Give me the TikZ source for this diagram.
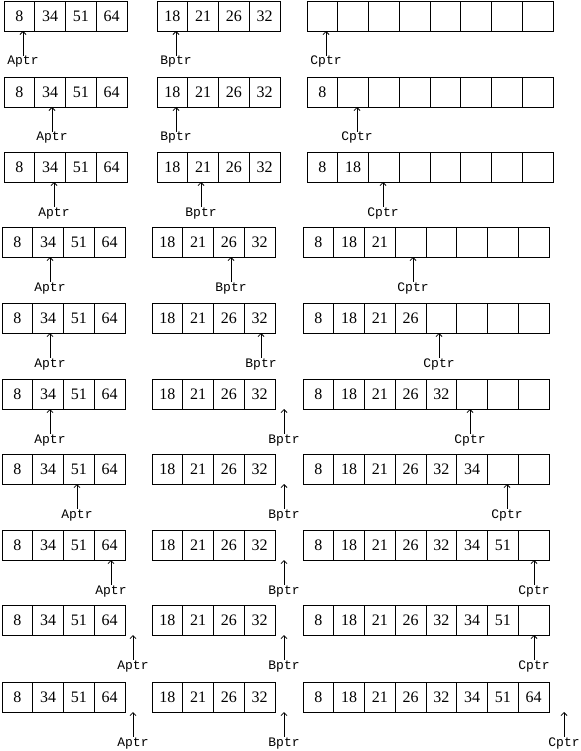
\documentclass[tikz,border=0pt]{standalone}
\usepackage{fontspec}
\setmainfont{Liberation Serif}
\setmonofont{Liberation Mono}
\usetikzlibrary{positioning,arrows.meta}
\newcommand{\cellrow}[4]{%
  \foreach \v [count=\k] in {#4}
    \node[cell] (#1-\k) at ({#2+(\k-0.5)*30.75},{#3+15}) {\v};%
}
\newcommand{\ptr}[5]{%
  \node[ptrlabel] (#1) at (#3,{#4+64}) {\texttt{#2}};
  \draw[->] (#1.north) -- (#1.north |- #5.south);%
}
% row, top, left of A B C, C values, x of Aptr Bptr Cptr
\newcommand{\mergestep}[9]{%
  \cellrow{a#1}{#3}{#2}{8,34,51,64}
  \cellrow{b#1}{#4}{#2}{18,21,26,32}
  \cellrow{c#1}{#5}{#2}{#6}
  \ptr{ap#1}{Aptr}{#7}{#2}{a#1-1}
  \ptr{bp#1}{Bptr}{#8}{#2}{b#1-1}
  \ptr{cp#1}{Cptr}{#9}{#2}{c#1-1}%
}

\begin{document}
\begin{tikzpicture}[x=1pt,y=-1pt,>={Straight Barb[length=3pt,width=6pt]},line width=0.8pt,
    cell/.style={draw,minimum width=30.75pt,minimum height=30pt,inner sep=0pt,outer sep=0pt,font=\fontsize{16}{16}\selectfont},
    ptrlabel/.style={inner sep=0pt,anchor=base,font=\fontsize{13}{13}\selectfont}]
      \useasboundingbox (0,0) rectangle (580,751);
      \mergestep{1}{1}{4}{157}{307}{{},{},{},{},{},{},{},{}}{23}{176}{326}
      \mergestep{2}{77}{4}{157}{307}{8,{},{},{},{},{},{},{}}{52}{176}{357}
      \mergestep{3}{152}{4}{157}{307}{8,18,{},{},{},{},{},{}}{54}{201}{383}
      \mergestep{4}{227}{2}{152}{303}{8,18,21,{},{},{},{},{}}{50}{231}{413}
      \mergestep{5}{303}{2}{152}{303}{8,18,21,26,{},{},{},{}}{50}{261}{439}
      \mergestep{6}{379}{2}{152}{303}{8,18,21,26,32,{},{},{}}{50}{284}{470}
      \mergestep{7}{454}{2}{152}{303}{8,18,21,26,32,34,{},{}}{77}{284}{507}
      \mergestep{8}{530}{2}{152}{303}{8,18,21,26,32,34,51,{}}{111}{284}{534}
      \mergestep{9}{605}{2}{152}{303}{8,18,21,26,32,34,51,{}}{133}{284}{534}
      \mergestep{10}{682}{2}{152}{303}{8,18,21,26,32,34,51,64}{133}{284}{564}
\end{tikzpicture}
\end{document}
